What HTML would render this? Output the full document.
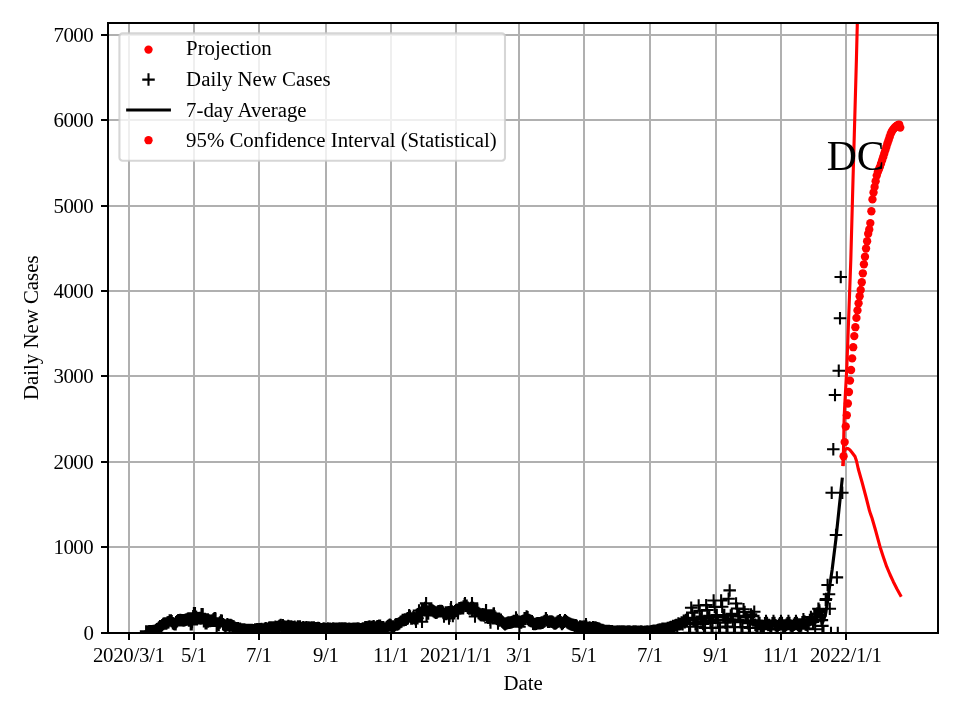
<!DOCTYPE html>
<html><head><meta charset="utf-8"><title>DC Daily New Cases</title>
<style>html,body{margin:0;padding:0;background:#fff;}body{width:960px;height:720px;position:relative;overflow:hidden;font-family:"Liberation Serif",serif;}</style></head>
<body>
<div style="position:absolute;left:0;top:0;width:960px;height:720px;will-change:transform">
<svg width="960" height="720" viewBox="0 0 960 720" style="position:absolute;left:0;top:0">
<rect x="0" y="0" width="960" height="720" fill="#fff"/>
<defs><clipPath id="ax"><rect x="108.0" y="23.0" width="830.0" height="610.0"/></clipPath></defs>
<path d="M129 23.0V633.0M194 23.0V633.0M259 23.0V633.0M326 23.0V633.0M391 23.0V633.0M456 23.0V633.0M519 23.0V633.0M584 23.0V633.0M650 23.0V633.0M716 23.0V633.0M781 23.0V633.0M846 23.0V633.0M108.0 633H938.0M108.0 547H938.0M108.0 462H938.0M108.0 376H938.0M108.0 291H938.0M108.0 206H938.0M108.0 120H938.0M108.0 35H938.0" stroke="#b0b0b0" stroke-width="2" fill="none"/>
<g clip-path="url(#ax)">
<g fill="#f00"><circle cx="843.60" cy="456.20" r="4.17"/><circle cx="844.67" cy="442.10" r="4.17"/><circle cx="845.74" cy="426.50" r="4.17"/><circle cx="846.81" cy="415.20" r="4.17"/><circle cx="847.88" cy="403.50" r="4.17"/><circle cx="848.94" cy="392.00" r="4.17"/><circle cx="850.01" cy="380.60" r="4.17"/><circle cx="851.08" cy="370.00" r="4.17"/><circle cx="852.15" cy="358.40" r="4.17"/><circle cx="853.22" cy="347.20" r="4.17"/><circle cx="854.29" cy="336.10" r="4.17"/><circle cx="855.36" cy="327.20" r="4.17"/><circle cx="856.43" cy="317.90" r="4.17"/><circle cx="857.49" cy="310.40" r="4.17"/><circle cx="858.56" cy="303.30" r="4.17"/><circle cx="859.63" cy="296.25" r="4.17"/><circle cx="860.70" cy="290.00" r="4.17"/><circle cx="861.77" cy="282.20" r="4.17"/><circle cx="862.84" cy="273.30" r="4.17"/><circle cx="863.91" cy="264.30" r="4.17"/><circle cx="864.98" cy="256.75" r="4.17"/><circle cx="866.04" cy="248.50" r="4.17"/><circle cx="867.11" cy="241.25" r="4.17"/><circle cx="868.18" cy="233.75" r="4.17"/><circle cx="869.25" cy="229.50" r="4.17"/><circle cx="870.32" cy="223.10" r="4.17"/><circle cx="871.39" cy="211.25" r="4.17"/><circle cx="872.46" cy="199.40" r="4.17"/><circle cx="873.53" cy="192.50" r="4.17"/><circle cx="874.60" cy="186.90" r="4.17"/><circle cx="875.66" cy="181.25" r="4.17"/><circle cx="876.73" cy="175.60" r="4.17"/><circle cx="877.80" cy="172.08" r="4.17"/><circle cx="878.87" cy="169.40" r="4.17"/><circle cx="879.94" cy="166.85" r="4.17"/><circle cx="881.01" cy="163.65" r="4.17"/><circle cx="882.08" cy="160.41" r="4.17"/><circle cx="883.15" cy="157.17" r="4.17"/><circle cx="884.21" cy="153.78" r="4.17"/><circle cx="885.28" cy="150.37" r="4.17"/><circle cx="886.35" cy="146.96" r="4.17"/><circle cx="887.42" cy="143.55" r="4.17"/><circle cx="888.49" cy="140.39" r="4.17"/><circle cx="889.56" cy="137.25" r="4.17"/><circle cx="890.63" cy="134.11" r="4.17"/><circle cx="891.70" cy="131.81" r="4.17"/><circle cx="892.76" cy="129.89" r="4.17"/><circle cx="893.83" cy="128.65" r="4.17"/><circle cx="894.90" cy="127.41" r="4.17"/><circle cx="895.97" cy="126.47" r="4.17"/><circle cx="897.04" cy="125.57" r="4.17"/><circle cx="898.11" cy="124.88" r="4.17"/><circle cx="899.18" cy="124.57" r="4.17"/><circle cx="900.25" cy="127.62" r="4.17"/></g>
<path d="M139.85 631.38h12.5M146.10 625.13v12.5M140.92 631.92h12.5M147.17 625.67v12.5M141.99 631.39h12.5M148.24 625.14v12.5M143.06 631.37h12.5M149.31 625.12v12.5M144.13 631.74h12.5M150.38 625.49v12.5M145.19 631.32h12.5M151.44 625.07v12.5M146.26 631.27h12.5M152.51 625.02v12.5M147.33 630.98h12.5M153.58 624.73v12.5M148.40 631.16h12.5M154.65 624.91v12.5M149.47 630.36h12.5M155.72 624.11v12.5M150.54 629.36h12.5M156.79 623.11v12.5M151.61 628.84h12.5M157.86 622.59v12.5M152.68 627.57h12.5M158.93 621.32v12.5M153.75 626.24h12.5M160.00 619.99v12.5M154.81 626.63h12.5M161.06 620.38v12.5M155.88 625.19h12.5M162.13 618.94v12.5M156.95 624.12h12.5M163.20 617.87v12.5M158.02 623.41h12.5M164.27 617.16v12.5M159.09 623.57h12.5M165.34 617.32v12.5M160.16 623.38h12.5M166.41 617.13v12.5M161.23 622.59h12.5M167.48 616.34v12.5M162.30 622.17h12.5M168.55 615.92v12.5M163.36 620.45h12.5M169.61 614.20v12.5M164.43 620.45h12.5M170.68 614.20v12.5M165.50 621.16h12.5M171.75 614.91v12.5M166.57 623.36h12.5M172.82 617.11v12.5M167.64 623.71h12.5M173.89 617.46v12.5M168.71 624.07h12.5M174.96 617.82v12.5M169.78 622.22h12.5M176.03 615.97v12.5M170.85 621.15h12.5M177.10 614.90v12.5M171.91 620.15h12.5M178.16 613.90v12.5M172.98 620.22h12.5M179.23 613.97v12.5M174.05 619.94h12.5M180.30 613.69v12.5M175.12 620.27h12.5M181.37 614.02v12.5M176.19 620.35h12.5M182.44 614.10v12.5M177.26 620.42h12.5M183.51 614.17v12.5M178.33 620.22h12.5M184.58 613.97v12.5M179.40 619.79h12.5M185.65 613.54v12.5M180.47 619.40h12.5M186.72 613.15v12.5M181.53 618.85h12.5M187.78 612.60v12.5M182.60 620.51h12.5M188.85 614.26v12.5M183.67 619.10h12.5M189.92 612.85v12.5M184.74 618.67h12.5M190.99 612.42v12.5M185.81 622.11h12.5M192.06 615.86v12.5M186.88 616.18h12.5M193.13 609.93v12.5M187.95 613.89h12.5M194.20 607.64v12.5M189.02 616.37h12.5M195.27 610.12v12.5M190.08 617.08h12.5M196.33 610.83v12.5M191.15 618.16h12.5M197.40 611.91v12.5M192.22 618.15h12.5M198.47 611.90v12.5M193.29 617.97h12.5M199.54 611.72v12.5M194.36 618.59h12.5M200.61 612.34v12.5M195.43 617.59h12.5M201.68 611.34v12.5M196.50 614.50h12.5M202.75 608.25v12.5M197.57 621.17h12.5M203.82 614.92v12.5M198.63 618.95h12.5M204.88 612.70v12.5M199.70 622.02h12.5M205.95 615.77v12.5M200.77 620.37h12.5M207.02 614.12v12.5M201.84 621.42h12.5M208.09 615.17v12.5M202.91 620.51h12.5M209.16 614.26v12.5M203.98 620.89h12.5M210.23 614.64v12.5M205.05 620.85h12.5M211.30 614.60v12.5M206.12 620.46h12.5M212.37 614.21v12.5M207.19 619.32h12.5M213.44 613.07v12.5M208.25 618.25h12.5M214.50 612.00v12.5M209.32 618.74h12.5M215.57 612.49v12.5M210.39 625.95h12.5M216.64 619.70v12.5M211.46 623.54h12.5M217.71 617.29v12.5M212.53 625.02h12.5M218.78 618.77v12.5M213.60 622.56h12.5M219.85 616.31v12.5M214.67 620.52h12.5M220.92 614.27v12.5M215.74 620.86h12.5M221.99 614.61v12.5M216.80 624.31h12.5M223.05 618.06v12.5M217.87 625.09h12.5M224.12 618.84v12.5M218.94 626.54h12.5M225.19 620.29v12.5M220.01 625.61h12.5M226.26 619.36v12.5M221.08 624.28h12.5M227.33 618.03v12.5M222.15 624.95h12.5M228.40 618.70v12.5M223.22 626.00h12.5M229.47 619.75v12.5M224.29 624.99h12.5M230.54 618.74v12.5M225.35 625.56h12.5M231.60 619.31v12.5M226.42 626.23h12.5M232.67 619.98v12.5M227.49 626.45h12.5M233.74 620.20v12.5M228.56 627.86h12.5M234.81 621.61v12.5M229.63 628.16h12.5M235.88 621.91v12.5M230.70 628.57h12.5M236.95 622.32v12.5M231.77 628.13h12.5M238.02 621.88v12.5M232.84 629.46h12.5M239.09 623.21v12.5M233.91 628.74h12.5M240.16 622.49v12.5M234.97 629.79h12.5M241.22 623.54v12.5M236.04 629.55h12.5M242.29 623.30v12.5M237.11 629.85h12.5M243.36 623.60v12.5M238.18 629.60h12.5M244.43 623.35v12.5M239.25 630.45h12.5M245.50 624.20v12.5M240.32 630.06h12.5M246.57 623.81v12.5M241.39 630.23h12.5M247.64 623.98v12.5M242.46 630.08h12.5M248.71 623.83v12.5M243.52 630.16h12.5M249.77 623.91v12.5M244.59 630.07h12.5M250.84 623.82v12.5M245.66 629.88h12.5M251.91 623.63v12.5M246.73 630.17h12.5M252.98 623.92v12.5M247.80 630.25h12.5M254.05 624.00v12.5M248.87 629.52h12.5M255.12 623.27v12.5M249.94 629.62h12.5M256.19 623.37v12.5M251.01 629.37h12.5M257.26 623.12v12.5M252.07 630.16h12.5M258.32 623.91v12.5M253.14 629.35h12.5M259.39 623.10v12.5M254.21 629.13h12.5M260.46 622.88v12.5M255.28 628.90h12.5M261.53 622.65v12.5M256.35 629.42h12.5M262.60 623.17v12.5M257.42 629.49h12.5M263.67 623.24v12.5M258.49 628.86h12.5M264.74 622.61v12.5M259.56 628.33h12.5M265.81 622.08v12.5M260.63 629.33h12.5M266.88 623.08v12.5M261.69 628.81h12.5M267.94 622.56v12.5M262.76 627.71h12.5M269.01 621.46v12.5M263.83 627.60h12.5M270.08 621.35v12.5M264.90 627.51h12.5M271.15 621.26v12.5M265.97 627.98h12.5M272.22 621.73v12.5M267.04 627.41h12.5M273.29 621.16v12.5M268.11 628.30h12.5M274.36 622.05v12.5M269.18 626.66h12.5M275.43 620.41v12.5M270.24 627.82h12.5M276.49 621.57v12.5M271.31 627.34h12.5M277.56 621.09v12.5M272.38 626.47h12.5M278.63 620.22v12.5M273.45 625.63h12.5M279.70 619.38v12.5M274.52 625.11h12.5M280.77 618.86v12.5M275.59 626.88h12.5M281.84 620.63v12.5M276.66 625.30h12.5M282.91 619.05v12.5M277.73 626.47h12.5M283.98 620.22v12.5M278.79 626.77h12.5M285.04 620.52v12.5M279.86 627.15h12.5M286.11 620.90v12.5M280.93 626.64h12.5M287.18 620.39v12.5M282.00 626.12h12.5M288.25 619.87v12.5M283.07 626.44h12.5M289.32 620.19v12.5M284.14 626.97h12.5M290.39 620.72v12.5M285.21 626.45h12.5M291.46 620.20v12.5M286.28 627.24h12.5M292.53 620.99v12.5M287.35 627.42h12.5M293.60 621.17v12.5M288.41 626.71h12.5M294.66 620.46v12.5M289.48 627.67h12.5M295.73 621.42v12.5M290.55 628.04h12.5M296.80 621.79v12.5M291.62 626.52h12.5M297.87 620.27v12.5M292.69 627.54h12.5M298.94 621.29v12.5M293.76 626.58h12.5M300.01 620.33v12.5M294.83 628.08h12.5M301.08 621.83v12.5M295.90 627.90h12.5M302.15 621.65v12.5M296.96 627.13h12.5M303.21 620.88v12.5M298.03 627.70h12.5M304.28 621.45v12.5M299.10 627.74h12.5M305.35 621.49v12.5M300.17 627.28h12.5M306.42 621.03v12.5M301.24 628.67h12.5M307.49 622.42v12.5M302.31 627.47h12.5M308.56 621.22v12.5M303.38 627.66h12.5M309.63 621.41v12.5M304.45 628.62h12.5M310.70 622.37v12.5M305.51 627.61h12.5M311.76 621.36v12.5M306.58 628.45h12.5M312.83 622.20v12.5M307.65 627.59h12.5M313.90 621.34v12.5M308.72 628.16h12.5M314.97 621.91v12.5M309.79 628.31h12.5M316.04 622.06v12.5M310.86 628.19h12.5M317.11 621.94v12.5M311.93 628.00h12.5M318.18 621.75v12.5M313.00 628.33h12.5M319.25 622.08v12.5M314.07 629.37h12.5M320.32 623.12v12.5M315.13 629.36h12.5M321.38 623.11v12.5M316.20 629.26h12.5M322.45 623.01v12.5M317.27 628.58h12.5M323.52 622.33v12.5M318.34 628.75h12.5M324.59 622.50v12.5M319.41 629.14h12.5M325.66 622.89v12.5M320.48 629.59h12.5M326.73 623.34v12.5M321.55 628.60h12.5M327.80 622.35v12.5M322.62 629.69h12.5M328.87 623.44v12.5M323.68 628.75h12.5M329.93 622.50v12.5M324.75 629.52h12.5M331.00 623.27v12.5M325.82 628.88h12.5M332.07 622.63v12.5M326.89 628.56h12.5M333.14 622.31v12.5M327.96 628.76h12.5M334.21 622.51v12.5M329.03 629.46h12.5M335.28 623.21v12.5M330.10 628.63h12.5M336.35 622.38v12.5M331.17 628.96h12.5M337.42 622.71v12.5M332.23 628.71h12.5M338.48 622.46v12.5M333.30 628.42h12.5M339.55 622.17v12.5M334.37 629.59h12.5M340.62 623.34v12.5M335.44 628.52h12.5M341.69 622.27v12.5M336.51 628.56h12.5M342.76 622.31v12.5M337.58 629.29h12.5M343.83 623.04v12.5M338.65 628.62h12.5M344.90 622.37v12.5M339.72 628.78h12.5M345.97 622.53v12.5M340.79 629.52h12.5M347.04 623.27v12.5M341.85 629.03h12.5M348.10 622.78v12.5M342.92 628.79h12.5M349.17 622.54v12.5M343.99 629.26h12.5M350.24 623.01v12.5M345.06 628.94h12.5M351.31 622.69v12.5M346.13 628.96h12.5M352.38 622.71v12.5M347.20 628.85h12.5M353.45 622.60v12.5M348.27 628.71h12.5M354.52 622.46v12.5M349.34 628.77h12.5M355.59 622.52v12.5M350.40 628.74h12.5M356.65 622.49v12.5M351.47 628.62h12.5M357.72 622.37v12.5M352.54 628.77h12.5M358.79 622.52v12.5M353.61 629.16h12.5M359.86 622.91v12.5M354.68 629.40h12.5M360.93 623.15v12.5M355.75 628.97h12.5M362.00 622.72v12.5M356.82 628.47h12.5M363.07 622.22v12.5M357.89 628.47h12.5M364.14 622.22v12.5M358.95 627.33h12.5M365.20 621.08v12.5M360.02 627.30h12.5M366.27 621.05v12.5M361.09 628.03h12.5M367.34 621.78v12.5M362.16 627.00h12.5M368.41 620.75v12.5M363.23 626.58h12.5M369.48 620.33v12.5M364.30 628.01h12.5M370.55 621.76v12.5M365.37 627.04h12.5M371.62 620.79v12.5M366.44 626.68h12.5M372.69 620.43v12.5M367.51 626.33h12.5M373.76 620.08v12.5M368.57 627.45h12.5M374.82 621.20v12.5M369.64 627.53h12.5M375.89 621.28v12.5M370.71 626.44h12.5M376.96 620.19v12.5M371.78 626.32h12.5M378.03 620.07v12.5M372.85 625.86h12.5M379.10 619.61v12.5M373.92 625.84h12.5M380.17 619.59v12.5M374.99 627.21h12.5M381.24 620.96v12.5M376.06 627.28h12.5M382.31 621.03v12.5M377.12 627.14h12.5M383.37 620.89v12.5M378.19 629.03h12.5M384.44 622.78v12.5M379.26 628.50h12.5M385.51 622.25v12.5M380.33 627.13h12.5M386.58 620.88v12.5M381.40 626.37h12.5M387.65 620.12v12.5M382.47 625.51h12.5M388.72 619.26v12.5M383.54 624.81h12.5M389.79 618.56v12.5M384.61 625.61h12.5M390.86 619.36v12.5M385.67 626.94h12.5M391.92 620.69v12.5M386.74 626.51h12.5M392.99 620.26v12.5M387.81 627.86h12.5M394.06 621.61v12.5M388.88 625.02h12.5M395.13 618.77v12.5M389.95 624.28h12.5M396.20 618.03v12.5M391.02 624.45h12.5M397.27 618.20v12.5M392.09 624.04h12.5M398.34 617.79v12.5M393.16 623.19h12.5M399.41 616.94v12.5M394.23 622.00h12.5M400.48 615.75v12.5M395.29 621.52h12.5M401.54 615.27v12.5M396.36 620.05h12.5M402.61 613.80v12.5M397.43 620.19h12.5M403.68 613.94v12.5M398.50 619.59h12.5M404.75 613.34v12.5M399.57 619.80h12.5M405.82 613.55v12.5M400.64 618.82h12.5M406.89 612.57v12.5M401.71 618.27h12.5M407.96 612.02v12.5M402.78 616.14h12.5M409.03 609.89v12.5M403.84 616.40h12.5M410.09 610.15v12.5M404.91 618.40h12.5M411.16 612.15v12.5M405.98 618.49h12.5M412.23 612.24v12.5M407.05 617.33h12.5M413.30 611.08v12.5M408.12 618.12h12.5M414.37 611.87v12.5M409.19 618.93h12.5M415.44 612.68v12.5M410.26 616.57h12.5M416.51 610.32v12.5M411.33 618.26h12.5M417.58 612.01v12.5M412.39 614.62h12.5M418.64 608.37v12.5M413.46 615.41h12.5M419.71 609.16v12.5M414.53 615.18h12.5M420.78 608.93v12.5M415.60 609.85h12.5M421.85 603.60v12.5M416.67 608.99h12.5M422.92 602.74v12.5M417.74 608.47h12.5M423.99 602.22v12.5M418.81 608.06h12.5M425.06 601.81v12.5M419.88 607.58h12.5M426.13 601.33v12.5M420.95 611.47h12.5M427.20 605.22v12.5M422.01 613.61h12.5M428.26 607.36v12.5M423.08 609.49h12.5M429.33 603.24v12.5M424.15 610.19h12.5M430.40 603.94v12.5M425.22 609.85h12.5M431.47 603.60v12.5M426.29 610.47h12.5M432.54 604.22v12.5M427.36 611.22h12.5M433.61 604.97v12.5M428.43 612.04h12.5M434.68 605.79v12.5M429.50 612.85h12.5M435.75 606.60v12.5M430.56 612.46h12.5M436.81 606.21v12.5M431.63 611.53h12.5M437.88 605.28v12.5M432.70 611.16h12.5M438.95 604.91v12.5M433.77 610.91h12.5M440.02 604.66v12.5M434.84 611.05h12.5M441.09 604.80v12.5M435.91 611.36h12.5M442.16 605.11v12.5M436.98 612.58h12.5M443.23 606.33v12.5M438.05 613.89h12.5M444.30 607.64v12.5M439.11 613.97h12.5M445.36 607.72v12.5M440.18 614.08h12.5M446.43 607.83v12.5M441.25 613.02h12.5M447.50 606.77v12.5M442.32 612.37h12.5M448.57 606.12v12.5M443.39 615.73h12.5M449.64 609.48v12.5M444.46 609.35h12.5M450.71 603.10v12.5M445.53 611.37h12.5M451.78 605.12v12.5M446.60 615.99h12.5M452.85 609.74v12.5M447.67 612.24h12.5M453.92 605.99v12.5M448.73 611.16h12.5M454.98 604.91v12.5M449.80 610.25h12.5M456.05 604.00v12.5M450.87 609.70h12.5M457.12 603.45v12.5M451.94 609.73h12.5M458.19 603.48v12.5M453.01 608.32h12.5M459.26 602.07v12.5M454.08 608.49h12.5M460.33 602.24v12.5M455.15 607.68h12.5M461.40 601.43v12.5M456.22 608.24h12.5M462.47 601.99v12.5M457.28 606.41h12.5M463.53 600.16v12.5M458.35 604.37h12.5M464.60 598.12v12.5M459.42 605.65h12.5M465.67 599.40v12.5M460.49 605.85h12.5M466.74 599.60v12.5M461.56 607.73h12.5M467.81 601.48v12.5M462.63 608.50h12.5M468.88 602.25v12.5M463.70 608.42h12.5M469.95 602.17v12.5M464.77 608.00h12.5M471.02 601.75v12.5M465.83 611.16h12.5M472.08 604.91v12.5M466.90 607.91h12.5M473.15 601.66v12.5M467.97 609.13h12.5M474.22 602.88v12.5M469.04 611.33h12.5M475.29 605.08v12.5M470.11 609.36h12.5M476.36 603.11v12.5M471.18 610.08h12.5M477.43 603.83v12.5M472.25 613.04h12.5M478.50 606.79v12.5M473.32 613.99h12.5M479.57 607.74v12.5M474.39 614.93h12.5M480.64 608.68v12.5M475.45 615.36h12.5M481.70 609.11v12.5M476.52 614.27h12.5M482.77 608.02v12.5M477.59 615.57h12.5M483.84 609.32v12.5M478.66 614.54h12.5M484.91 608.29v12.5M479.73 610.84h12.5M485.98 604.59v12.5M480.80 615.72h12.5M487.05 609.47v12.5M481.87 617.70h12.5M488.12 611.45v12.5M482.94 616.15h12.5M489.19 609.90v12.5M484.00 619.86h12.5M490.25 613.61v12.5M485.07 616.11h12.5M491.32 609.86v12.5M486.14 616.32h12.5M492.39 610.07v12.5M487.21 613.68h12.5M493.46 607.43v12.5M488.28 616.21h12.5M494.53 609.96v12.5M489.35 617.83h12.5M495.60 611.58v12.5M490.42 618.79h12.5M496.67 612.54v12.5M491.49 619.16h12.5M497.74 612.91v12.5M492.55 618.78h12.5M498.80 612.53v12.5M493.62 620.43h12.5M499.87 614.18v12.5M494.69 619.77h12.5M500.94 613.52v12.5M495.76 621.40h12.5M502.01 615.15v12.5M496.83 622.61h12.5M503.08 616.36v12.5M497.90 623.44h12.5M504.15 617.19v12.5M498.97 624.11h12.5M505.22 617.86v12.5M500.04 623.51h12.5M506.29 617.26v12.5M501.11 622.91h12.5M507.36 616.66v12.5M502.17 622.51h12.5M508.42 616.26v12.5M503.24 622.85h12.5M509.49 616.60v12.5M504.31 622.39h12.5M510.56 616.14v12.5M505.38 622.32h12.5M511.63 616.07v12.5M506.45 621.71h12.5M512.70 615.46v12.5M507.52 620.89h12.5M513.77 614.64v12.5M508.59 620.88h12.5M514.84 614.63v12.5M509.66 621.19h12.5M515.91 614.94v12.5M510.72 620.09h12.5M516.97 613.84v12.5M511.79 621.54h12.5M518.04 615.29v12.5M512.86 621.76h12.5M519.11 615.51v12.5M513.93 622.06h12.5M520.18 615.81v12.5M515.00 622.43h12.5M521.25 616.18v12.5M516.07 621.13h12.5M522.32 614.88v12.5M517.14 620.68h12.5M523.39 614.43v12.5M518.21 618.17h12.5M524.46 611.92v12.5M519.27 618.77h12.5M525.52 612.52v12.5M520.34 616.55h12.5M526.59 610.30v12.5M521.41 617.17h12.5M527.66 610.92v12.5M522.48 620.07h12.5M528.73 613.82v12.5M523.55 620.57h12.5M529.80 614.32v12.5M524.62 621.08h12.5M530.87 614.83v12.5M525.69 621.27h12.5M531.94 615.02v12.5M526.76 623.86h12.5M533.01 617.61v12.5M527.83 624.01h12.5M534.08 617.76v12.5M528.89 623.98h12.5M535.14 617.73v12.5M529.96 623.73h12.5M536.21 617.48v12.5M531.03 623.35h12.5M537.28 617.10v12.5M532.10 623.13h12.5M538.35 616.88v12.5M533.17 623.23h12.5M539.42 616.98v12.5M534.24 623.22h12.5M540.49 616.97v12.5M535.31 622.45h12.5M541.56 616.20v12.5M536.38 622.76h12.5M542.63 616.51v12.5M537.44 621.63h12.5M543.69 615.38v12.5M538.51 620.90h12.5M544.76 614.65v12.5M539.58 618.33h12.5M545.83 612.08v12.5M540.65 620.19h12.5M546.90 613.94v12.5M541.72 621.72h12.5M547.97 615.47v12.5M542.79 621.72h12.5M549.04 615.47v12.5M543.86 621.62h12.5M550.11 615.37v12.5M544.93 621.53h12.5M551.18 615.28v12.5M545.99 621.67h12.5M552.24 615.42v12.5M547.06 622.58h12.5M553.31 616.33v12.5M548.13 623.45h12.5M554.38 617.20v12.5M549.20 623.57h12.5M555.45 617.32v12.5M550.27 622.68h12.5M556.52 616.43v12.5M551.34 621.79h12.5M557.59 615.54v12.5M552.41 621.18h12.5M558.66 614.93v12.5M553.48 620.98h12.5M559.73 614.73v12.5M554.55 622.14h12.5M560.80 615.89v12.5M555.61 624.08h12.5M561.86 617.83v12.5M556.68 622.91h12.5M562.93 616.66v12.5M557.75 621.65h12.5M564.00 615.40v12.5M558.82 620.49h12.5M565.07 614.24v12.5M559.89 621.36h12.5M566.14 615.11v12.5M560.96 622.22h12.5M567.21 615.97v12.5M562.03 622.99h12.5M568.28 616.74v12.5M563.10 623.52h12.5M569.35 617.27v12.5M564.16 624.06h12.5M570.41 617.81v12.5M565.23 624.45h12.5M571.48 618.20v12.5M566.30 624.66h12.5M572.55 618.41v12.5M567.37 625.03h12.5M573.62 618.78v12.5M568.44 625.88h12.5M574.69 619.63v12.5M569.51 625.32h12.5M575.76 619.07v12.5M570.58 625.98h12.5M576.83 619.73v12.5M571.65 627.50h12.5M577.90 621.25v12.5M572.71 627.39h12.5M578.96 621.14v12.5M573.78 626.56h12.5M580.03 620.31v12.5M574.85 626.70h12.5M581.10 620.45v12.5M575.92 626.73h12.5M582.17 620.48v12.5M576.99 628.10h12.5M583.24 621.85v12.5M578.06 626.44h12.5M584.31 620.19v12.5M579.13 627.02h12.5M585.38 620.77v12.5M580.20 626.74h12.5M586.45 620.49v12.5M581.27 628.19h12.5M587.52 621.94v12.5M582.33 628.11h12.5M588.58 621.86v12.5M583.40 627.60h12.5M589.65 621.35v12.5M584.47 628.15h12.5M590.72 621.90v12.5M585.54 628.28h12.5M591.79 622.03v12.5M586.61 627.32h12.5M592.86 621.07v12.5M587.68 627.57h12.5M593.93 621.32v12.5M588.75 627.40h12.5M595.00 621.15v12.5M589.82 627.75h12.5M596.07 621.50v12.5M590.88 628.28h12.5M597.13 622.03v12.5M591.95 628.61h12.5M598.20 622.36v12.5M593.02 628.85h12.5M599.27 622.60v12.5M594.09 629.39h12.5M600.34 623.14v12.5M595.16 630.32h12.5M601.41 624.07v12.5M596.23 629.89h12.5M602.48 623.64v12.5M597.30 630.47h12.5M603.55 624.22v12.5M598.37 630.91h12.5M604.62 624.66v12.5M599.43 630.95h12.5M605.68 624.70v12.5M600.50 631.11h12.5M606.75 624.86v12.5M601.57 631.22h12.5M607.82 624.97v12.5M602.64 631.11h12.5M608.89 624.86v12.5M603.71 631.16h12.5M609.96 624.91v12.5M604.78 631.33h12.5M611.03 625.08v12.5M605.85 631.30h12.5M612.10 625.05v12.5M606.92 631.63h12.5M613.17 625.38v12.5M607.99 632.01h12.5M614.24 625.76v12.5M609.05 631.70h12.5M615.30 625.45v12.5M610.12 631.97h12.5M616.37 625.72v12.5M611.19 631.44h12.5M617.44 625.19v12.5M612.26 631.92h12.5M618.51 625.67v12.5M613.33 631.58h12.5M619.58 625.33v12.5M614.40 632.20h12.5M620.65 625.95v12.5M615.47 631.55h12.5M621.72 625.30v12.5M616.54 631.53h12.5M622.79 625.28v12.5M617.60 631.52h12.5M623.85 625.27v12.5M618.67 632.16h12.5M624.92 625.91v12.5M619.74 631.66h12.5M625.99 625.41v12.5M620.81 632.00h12.5M627.06 625.75v12.5M621.88 631.58h12.5M628.13 625.33v12.5M622.95 631.50h12.5M629.20 625.25v12.5M624.02 631.67h12.5M630.27 625.42v12.5M625.09 632.25h12.5M631.34 626.00v12.5M626.15 631.93h12.5M632.40 625.68v12.5M627.22 631.58h12.5M633.47 625.33v12.5M628.29 631.66h12.5M634.54 625.41v12.5M629.36 631.59h12.5M635.61 625.34v12.5M630.43 631.69h12.5M636.68 625.44v12.5M631.50 632.21h12.5M637.75 625.96v12.5M632.57 631.68h12.5M638.82 625.43v12.5M633.64 632.19h12.5M639.89 625.94v12.5M634.71 631.62h12.5M640.96 625.37v12.5M635.77 631.67h12.5M642.02 625.42v12.5M636.84 632.18h12.5M643.09 625.93v12.5M637.91 632.01h12.5M644.16 625.76v12.5M638.98 631.73h12.5M645.23 625.48v12.5M640.05 631.80h12.5M646.30 625.55v12.5M641.12 631.56h12.5M647.37 625.31v12.5M642.19 631.96h12.5M648.44 625.71v12.5M643.26 631.72h12.5M649.51 625.47v12.5M644.32 631.48h12.5M650.57 625.23v12.5M645.39 631.36h12.5M651.64 625.11v12.5M646.46 631.11h12.5M652.71 624.86v12.5M647.53 630.78h12.5M653.78 624.53v12.5M648.60 630.73h12.5M654.85 624.48v12.5M649.67 630.97h12.5M655.92 624.72v12.5M650.74 630.39h12.5M656.99 624.14v12.5M651.81 629.91h12.5M658.06 623.66v12.5M652.87 629.71h12.5M659.12 623.46v12.5M653.94 629.39h12.5M660.19 623.14v12.5M655.01 629.85h12.5M661.26 623.60v12.5M656.08 628.81h12.5M662.33 622.56v12.5M657.15 628.64h12.5M663.40 622.39v12.5M658.22 629.65h12.5M664.47 623.40v12.5M659.29 628.73h12.5M665.54 622.48v12.5M660.36 628.79h12.5M666.61 622.54v12.5M661.43 627.98h12.5M667.68 621.73v12.5M662.49 627.98h12.5M668.74 621.73v12.5M663.56 627.52h12.5M669.81 621.27v12.5M664.63 627.02h12.5M670.88 620.77v12.5M665.70 626.99h12.5M671.95 620.74v12.5M666.77 625.91h12.5M673.02 619.66v12.5M667.84 626.19h12.5M674.09 619.94v12.5M668.91 625.44h12.5M675.16 619.19v12.5M669.98 625.06h12.5M676.23 618.81v12.5M671.04 626.00h12.5M677.29 619.75v12.5M672.11 623.39h12.5M678.36 617.14v12.5M673.18 624.26h12.5M679.43 618.01v12.5M674.25 623.88h12.5M680.50 617.63v12.5M675.32 622.40h12.5M681.57 616.15v12.5M676.39 624.25h12.5M682.64 618.00v12.5M677.46 620.80h12.5M683.71 614.55v12.5M678.53 622.37h12.5M684.78 616.12v12.5M679.59 619.92h12.5M685.84 613.67v12.5M680.66 619.91h12.5M686.91 613.66v12.5M681.73 618.33h12.5M687.98 612.08v12.5M682.80 632.75h12.5M689.05 626.50v12.5M683.87 626.81h12.5M690.12 620.56v12.5M684.94 607.80h12.5M691.19 601.55v12.5M686.01 612.66h12.5M692.26 606.41v12.5M687.08 619.62h12.5M693.33 613.37v12.5M688.15 617.88h12.5M694.40 611.63v12.5M689.21 624.13h12.5M695.46 617.88v12.5M690.28 632.75h12.5M696.53 626.50v12.5M691.35 626.77h12.5M697.60 620.52v12.5M692.42 605.58h12.5M698.67 599.33v12.5M693.49 610.72h12.5M699.74 604.47v12.5M694.56 619.21h12.5M700.81 612.96v12.5M695.63 616.66h12.5M701.88 610.41v12.5M696.70 623.92h12.5M702.95 617.67v12.5M697.76 632.75h12.5M704.01 626.50v12.5M698.83 627.84h12.5M705.08 621.59v12.5M699.90 605.16h12.5M706.15 598.91v12.5M700.97 610.00h12.5M707.22 603.75v12.5M702.04 618.05h12.5M708.29 611.80v12.5M703.11 615.78h12.5M709.36 609.53v12.5M704.18 622.95h12.5M710.43 616.70v12.5M705.25 632.75h12.5M711.50 626.50v12.5M706.31 627.96h12.5M712.56 621.71v12.5M707.38 600.54h12.5M713.63 594.29v12.5M708.45 607.06h12.5M714.70 600.81v12.5M709.52 616.86h12.5M715.77 610.61v12.5M710.59 614.97h12.5M716.84 608.72v12.5M711.66 622.75h12.5M717.91 616.50v12.5M712.73 632.75h12.5M718.98 626.50v12.5M713.80 627.53h12.5M720.05 621.28v12.5M714.87 600.54h12.5M721.12 594.29v12.5M715.93 606.79h12.5M722.18 600.54v12.5M717.00 616.90h12.5M723.25 610.65v12.5M718.07 615.01h12.5M724.32 608.76v12.5M719.14 622.63h12.5M725.39 616.38v12.5M720.21 632.75h12.5M726.46 626.50v12.5M721.28 626.49h12.5M727.53 620.24v12.5M722.35 598.83h12.5M728.60 592.58v12.5M723.42 590.38h12.5M729.67 584.13v12.5M724.48 615.38h12.5M730.73 609.13v12.5M725.55 613.83h12.5M731.80 607.58v12.5M726.62 621.59h12.5M732.87 615.34v12.5M727.69 632.75h12.5M733.94 626.50v12.5M728.76 627.33h12.5M735.01 621.08v12.5M729.83 603.53h12.5M736.08 597.28v12.5M730.90 608.55h12.5M737.15 602.30v12.5M731.97 616.55h12.5M738.22 610.30v12.5M733.03 615.72h12.5M739.28 609.47v12.5M734.10 622.30h12.5M740.35 616.05v12.5M735.17 632.75h12.5M741.42 626.50v12.5M736.24 627.08h12.5M742.49 620.83v12.5M737.31 609.17h12.5M743.56 602.92v12.5M738.38 612.07h12.5M744.63 605.82v12.5M739.45 617.36h12.5M745.70 611.11v12.5M740.52 617.25h12.5M746.77 611.00v12.5M741.59 623.19h12.5M747.84 616.94v12.5M742.65 632.75h12.5M748.90 626.50v12.5M743.72 627.84h12.5M749.97 621.59v12.5M744.79 614.38h12.5M751.04 608.13v12.5M745.86 616.10h12.5M752.11 609.85v12.5M746.93 620.34h12.5M753.18 614.09v12.5M748.00 611.73h12.5M754.25 605.48v12.5M749.07 624.63h12.5M755.32 618.38v12.5M750.14 632.75h12.5M756.39 626.50v12.5M751.20 628.05h12.5M757.45 621.80v12.5M752.27 620.96h12.5M758.52 614.71v12.5M753.34 622.92h12.5M759.59 616.67v12.5M754.41 625.85h12.5M760.66 619.60v12.5M755.48 625.76h12.5M761.73 619.51v12.5M756.55 629.17h12.5M762.80 622.92v12.5M757.62 626.12h12.5M763.87 619.87v12.5M758.69 623.14h12.5M764.94 616.89v12.5M759.75 620.96h12.5M766.00 614.71v12.5M760.82 622.92h12.5M767.07 616.67v12.5M761.89 624.88h12.5M768.14 618.63v12.5M762.96 625.00h12.5M769.21 618.75v12.5M764.03 629.10h12.5M770.28 622.85v12.5M765.10 625.68h12.5M771.35 619.43v12.5M766.17 623.14h12.5M772.42 616.89v12.5M767.24 620.96h12.5M773.49 614.71v12.5M768.31 622.92h12.5M774.56 616.67v12.5M769.37 625.34h12.5M775.62 619.09v12.5M770.44 626.14h12.5M776.69 619.89v12.5M771.51 629.47h12.5M777.76 623.22v12.5M772.58 624.87h12.5M778.83 618.62v12.5M773.65 623.14h12.5M779.90 616.89v12.5M774.72 620.96h12.5M780.97 614.71v12.5M775.79 622.92h12.5M782.04 616.67v12.5M776.86 625.75h12.5M783.11 619.50v12.5M777.92 625.47h12.5M784.17 619.22v12.5M778.99 628.55h12.5M785.24 622.30v12.5M780.06 624.76h12.5M786.31 618.51v12.5M781.13 623.14h12.5M787.38 616.89v12.5M782.20 620.96h12.5M788.45 614.71v12.5M783.27 622.92h12.5M789.52 616.67v12.5M784.34 625.51h12.5M790.59 619.26v12.5M785.41 625.90h12.5M791.66 619.65v12.5M786.47 629.20h12.5M792.72 622.95v12.5M787.54 624.84h12.5M793.79 618.59v12.5M788.61 623.14h12.5M794.86 616.89v12.5M789.68 620.96h12.5M795.93 614.71v12.5M790.75 622.92h12.5M797.00 616.67v12.5M791.82 624.88h12.5M798.07 618.63v12.5M792.89 625.92h12.5M799.14 619.67v12.5M793.96 628.64h12.5M800.21 622.39v12.5M795.03 625.46h12.5M801.28 619.21v12.5M796.09 622.37h12.5M802.34 616.12v12.5M797.16 619.36h12.5M803.41 613.11v12.5M798.23 621.43h12.5M804.48 615.18v12.5M799.30 624.51h12.5M805.55 618.26v12.5M800.37 624.74h12.5M806.62 618.49v12.5M801.44 628.60h12.5M807.69 622.35v12.5M802.51 622.47h12.5M808.76 616.22v12.5M803.58 620.07h12.5M809.83 613.82v12.5M804.64 616.98h12.5M810.89 610.73v12.5M805.71 618.68h12.5M811.96 612.43v12.5M806.78 622.04h12.5M813.03 615.79v12.5M807.85 620.05h12.5M814.10 613.80v12.5M808.92 629.31h12.5M815.17 623.06v12.5M809.99 617.33h12.5M816.24 611.08v12.5M811.06 613.59h12.5M817.31 607.34v12.5M812.13 608.82h12.5M818.38 602.57v12.5M813.19 610.62h12.5M819.44 604.37v12.5M814.26 614.96h12.5M820.51 608.71v12.5M163.65 620.45h12.5M169.90 614.20v12.5M164.75 620.45h12.5M171.00 614.20v12.5M187.65 613.35h12.5M193.90 607.10v12.5M188.75 613.35h12.5M195.00 607.10v12.5M195.25 614.25h12.5M201.50 608.00v12.5M196.35 614.25h12.5M202.60 608.00v12.5M208.75 618.25h12.5M215.00 612.00v12.5M214.75 620.45h12.5M221.00 614.20v12.5M168.35 624.35h12.5M174.60 618.10v12.5M169.45 624.35h12.5M175.70 618.10v12.5M184.45 624.35h12.5M190.70 618.10v12.5M185.55 624.35h12.5M191.80 618.10v12.5M199.25 623.35h12.5M205.50 617.10v12.5M200.35 623.35h12.5M206.60 617.10v12.5M402.95 615.35h12.5M409.20 609.10v12.5M412.75 610.45h12.5M419.00 604.20v12.5M419.85 603.35h12.5M426.10 597.10v12.5M444.85 607.35h12.5M451.10 601.10v12.5M458.75 603.35h12.5M465.00 597.10v12.5M465.75 603.35h12.5M472.00 597.10v12.5M479.85 610.25h12.5M486.10 604.00v12.5M487.75 613.45h12.5M494.00 607.20v12.5M509.75 617.45h12.5M516.00 611.20v12.5M539.75 618.25h12.5M546.00 612.00v12.5M553.75 620.35h12.5M560.00 614.10v12.5M558.75 620.35h12.5M565.00 614.10v12.5M579.75 624.35h12.5M586.00 618.10v12.5M409.75 621.75h12.5M416.00 615.50v12.5M415.75 621.75h12.5M422.00 615.50v12.5M437.75 616.55h12.5M444.00 610.30v12.5M442.75 618.45h12.5M449.00 612.20v12.5M451.75 613.35h12.5M458.00 607.10v12.5M468.75 616.55h12.5M475.00 610.30v12.5M484.25 622.45h12.5M490.50 616.20v12.5M491.75 623.55h12.5M498.00 617.30v12.5M498.75 624.25h12.5M505.00 618.00v12.5M513.25 626.75h12.5M519.50 620.50v12.5M420.25 614.80h12.5M426.50 608.55v12.5M814.25 615.70h12.5M820.50 609.45v12.5M815.65 620.10h12.5M821.90 613.85v12.5M816.15 625.90h12.5M822.40 619.65v12.5M813.35 612.50h12.5M819.60 606.25v12.5M812.35 608.75h12.5M818.60 602.50v12.5M817.25 633.00h12.5M823.50 626.75v12.5M819.45 600.00h12.5M825.70 593.75v12.5M819.75 599.00h12.5M826.00 592.75v12.5M821.35 585.00h12.5M827.60 578.75v12.5M822.75 594.20h12.5M829.00 587.95v12.5M823.55 608.75h12.5M829.80 602.50v12.5M824.75 633.00h12.5M831.00 626.75v12.5M825.45 492.70h12.5M831.70 486.45v12.5M827.05 449.30h12.5M833.30 443.05v12.5M828.75 395.00h12.5M835.00 388.75v12.5M829.75 535.00h12.5M836.00 528.75v12.5M830.65 577.40h12.5M836.90 571.15v12.5M831.55 633.00h12.5M837.80 626.75v12.5M832.50 370.75h12.5M838.75 364.50v12.5M833.75 318.25h12.5M840.00 312.00v12.5M834.50 277.00h12.5M840.75 270.75v12.5M836.05 492.70h12.5M842.30 486.45v12.5" stroke="#000" stroke-width="2.08" fill="none"/>
<path d="M146.10 631.57L147.17 631.57L148.24 631.57L149.31 631.57L150.38 631.57L151.44 631.57L152.51 631.40L153.58 631.04L154.65 630.69L155.72 630.23L156.79 629.76L157.86 629.29L158.93 628.09L160.00 626.77L161.06 627.37L162.13 625.67L163.20 624.14L164.27 623.52L165.34 623.31L166.41 623.10L167.48 622.59L168.55 622.17L169.61 620.45L170.68 620.45L171.75 621.16L172.82 623.36L173.89 623.71L174.96 623.66L176.03 622.22L177.10 621.15L178.16 620.22L179.23 619.79L180.30 619.95L181.37 620.27L182.44 620.35L183.51 620.42L184.58 620.22L185.65 619.79L186.72 619.48L187.78 619.28L188.85 619.10L189.92 619.68L190.99 620.38L192.06 619.74L193.13 616.84L194.20 616.15L195.27 616.15L196.33 618.15L197.40 618.53L198.47 618.44L199.54 618.29L200.61 617.02L201.68 616.32L202.75 616.42L203.82 619.06L204.88 620.23L205.95 620.92L207.02 620.68L208.09 620.65L209.16 620.83L210.23 620.91L211.30 620.85L212.37 620.46L213.44 619.32L214.50 618.25L215.57 619.41L216.64 623.61L217.71 623.50L218.78 623.94L219.85 623.56L220.92 621.93L221.99 621.93L223.05 624.45L224.12 625.42L225.19 625.27L226.26 625.27L227.33 625.27L228.40 625.27L229.47 625.27L230.54 625.51L231.60 625.98L232.67 626.45L233.74 626.92L234.81 627.39L235.88 627.86L236.95 628.15L238.02 628.42L239.09 628.69L240.16 628.95L241.22 629.22L242.29 629.49L243.36 629.70L244.43 629.80L245.50 629.91L246.57 630.01L247.64 630.11L248.71 630.21L249.77 630.31L250.84 630.26L251.91 630.17L252.98 630.08L254.05 630.00L255.12 629.91L256.19 629.82L257.26 629.73L258.32 629.63L259.39 629.49L260.46 629.36L261.53 629.23L262.60 629.09L263.67 628.96L264.74 628.82L265.81 628.68L266.88 628.54L267.94 628.39L269.01 628.25L270.08 628.10L271.15 627.96L272.22 627.81L273.29 627.67L274.36 627.52L275.43 627.38L276.49 627.23L277.56 627.09L278.63 626.80L279.70 626.41L280.77 626.01L281.84 626.03L282.91 626.16L283.98 626.29L285.04 626.42L286.11 626.55L287.18 626.69L288.25 626.82L289.32 626.95L290.39 627.03L291.46 627.03L292.53 627.03L293.60 627.03L294.66 627.03L295.73 627.03L296.80 627.03L297.87 627.03L298.94 627.03L300.01 627.03L301.08 627.03L302.15 627.05L303.21 627.16L304.28 627.28L305.35 627.40L306.42 627.52L307.49 627.63L308.56 627.75L309.63 627.87L310.70 627.96L311.76 628.04L312.83 628.12L313.90 628.20L314.97 628.27L316.04 628.35L317.11 628.43L318.18 628.51L319.25 628.59L320.32 628.67L321.38 628.74L322.45 628.82L323.52 628.90L324.59 628.98L325.66 629.00L326.73 628.98L327.80 628.97L328.87 628.95L329.93 628.94L331.00 628.92L332.07 628.91L333.14 628.89L334.21 628.87L335.28 628.86L336.35 628.84L337.42 628.83L338.48 628.81L339.55 628.80L340.62 628.82L341.69 628.86L342.76 628.91L343.83 628.96L344.90 629.01L345.97 629.05L347.04 629.10L348.10 629.15L349.17 629.19L350.24 629.22L351.31 629.20L352.38 629.18L353.45 629.15L354.52 629.13L355.59 629.11L356.65 629.08L357.72 629.06L358.79 629.04L359.86 629.01L360.93 628.74L362.00 628.43L363.07 628.12L364.14 627.81L365.20 627.54L366.27 627.48L367.34 627.41L368.41 627.34L369.48 627.27L370.55 627.20L371.62 627.13L372.69 627.06L373.76 626.99L374.82 626.92L375.89 626.86L376.96 626.79L378.03 626.72L379.10 626.65L380.17 626.65L381.24 627.00L382.31 627.36L383.37 627.72L384.44 628.08L385.51 627.96L386.58 627.34L387.65 626.72L388.72 626.10L389.79 625.48L390.86 625.84L391.92 626.43L392.99 627.03L394.06 627.56L395.13 625.85L396.20 624.42L397.27 624.12L398.34 623.83L399.41 623.14L400.48 621.94L401.54 621.03L402.61 620.25L403.68 619.87L404.75 619.50L405.82 619.10L406.89 618.68L407.96 618.27L409.03 616.31L410.09 616.88L411.16 618.55L412.23 618.10L413.30 617.79L414.37 617.96L415.44 618.23L416.51 618.00L417.58 616.59L418.64 613.21L419.71 613.14L420.78 612.96L421.85 613.56L422.92 613.28L423.99 611.27L425.06 608.71L426.13 606.71L427.20 608.43L428.26 610.59L429.33 609.75L430.40 609.65L431.47 609.98L432.54 610.47L433.61 611.22L434.68 612.04L435.75 612.85L436.81 612.46L437.88 611.73L438.95 611.00L440.02 611.04L441.09 611.68L442.16 612.33L443.23 613.16L444.30 614.29L445.36 614.09L446.43 613.32L447.50 613.40L448.57 613.85L449.64 613.45L450.71 610.19L451.78 610.80L452.85 612.86L453.92 612.46L454.98 611.11L456.05 610.98L457.12 610.86L458.19 610.56L459.26 609.39L460.33 608.31L461.40 607.42L462.47 606.90L463.53 606.42L464.60 604.87L465.67 605.12L466.74 606.77L467.81 607.35L468.88 608.04L469.95 608.50L471.02 608.52L472.08 606.59L473.15 609.69L474.22 610.77L475.29 611.75L476.36 611.31L477.43 610.88L478.50 613.04L479.57 613.99L480.64 614.93L481.70 615.16L482.77 615.09L483.84 615.02L484.91 614.62L485.98 613.30L487.05 615.51L488.12 616.50L489.19 617.33L490.25 618.08L491.32 617.69L492.39 616.89L493.46 615.63L494.53 615.68L495.60 617.78L496.67 618.98L497.74 620.11L498.80 620.05L499.87 619.85L500.94 620.51L502.01 621.60L503.08 622.68L504.15 623.39L505.22 623.95L506.29 623.51L507.36 622.91L508.42 622.53L509.49 622.58L510.56 622.64L511.63 622.69L512.70 622.16L513.77 621.33L514.84 620.65L515.91 619.17L516.97 620.46L518.04 620.92L519.11 622.83L520.18 622.93L521.25 621.72L522.32 621.22L523.39 620.86L524.46 619.18L525.52 617.51L526.59 617.66L527.66 618.09L528.73 620.07L529.80 620.98L530.87 621.52L531.94 622.02L533.01 623.11L534.08 624.14L535.14 623.81L536.21 623.32L537.28 622.89L538.35 622.72L539.42 622.71L540.49 622.69L541.56 622.68L542.63 622.66L543.69 621.91L544.76 620.90L545.83 618.86L546.90 620.32L547.97 621.72L549.04 621.75L550.11 621.62L551.18 621.53L552.24 621.69L553.31 622.57L554.38 623.45L555.45 623.57L556.52 622.68L557.59 621.79L558.66 621.38L559.73 621.33L560.80 622.53L561.86 624.06L562.93 622.94L564.00 621.45L565.07 620.52L566.14 621.36L567.21 622.22L568.28 622.99L569.35 623.52L570.41 624.06L571.48 624.45L572.55 624.68L573.62 625.17L574.69 625.65L575.76 626.14L576.83 628.33L577.90 626.54L578.96 626.79L580.03 627.03L581.10 627.03L582.17 627.03L583.24 627.03L584.31 627.05L585.38 627.14L586.45 627.23L587.52 627.31L588.58 627.40L589.65 627.48L590.72 627.57L591.79 627.65L592.86 627.74L593.93 627.82L595.00 627.91L596.07 628.23L597.13 628.55L598.20 628.87L599.27 629.19L600.34 629.51L601.41 629.83L602.48 630.15L603.55 630.48L604.62 630.84L605.68 631.03L606.75 631.12L607.82 631.21L608.89 631.30L609.96 631.40L611.03 631.49L612.10 631.57L613.17 631.61L614.24 631.64L615.30 631.67L616.37 631.71L617.44 631.74L618.51 631.77L619.58 631.81L620.65 631.82L621.72 631.82L622.79 631.82L623.85 631.82L624.92 631.82L625.99 631.82L627.06 631.82L628.13 631.82L629.20 631.82L630.27 631.82L631.34 631.82L632.40 631.82L633.47 631.82L634.54 631.82L635.61 631.82L636.68 631.82L637.75 631.82L638.82 631.82L639.89 631.82L640.96 631.82L642.02 631.82L643.09 631.82L644.16 631.82L645.23 631.82L646.30 631.82L647.37 631.82L648.44 631.82L649.51 631.82L650.57 631.69L651.64 631.45L652.71 631.21L653.78 630.97L654.85 630.73L655.92 630.49L656.99 630.27L658.06 630.05L659.12 629.84L660.19 629.64L661.26 629.45L662.33 629.26L663.40 629.07L664.47 628.88L665.54 628.70L666.61 628.51L667.68 628.32L668.74 628.13L669.81 627.94L670.88 627.52L671.95 627.05L673.02 626.58L674.09 626.11L675.16 625.64L676.23 625.17L677.29 624.68L678.36 624.20L679.43 623.72L680.50 623.23L681.57 622.75L682.64 622.27L683.71 621.80L684.78 621.35L685.84 620.90L686.91 620.45L687.98 620.00L689.05 623.41L690.12 623.16L691.19 623.00L692.26 622.84L693.33 622.68L694.40 622.52L695.46 622.36L696.53 622.21L697.60 622.05L698.67 621.89L699.74 621.73L700.81 621.61L701.88 621.50L702.95 621.39L704.01 621.29L705.08 621.18L706.15 621.07L707.22 620.97L708.29 620.86L709.36 620.75L710.43 620.65L711.50 620.54L712.56 620.46L713.63 620.40L714.70 620.34L715.77 620.28L716.84 620.22L717.91 620.16L718.98 620.10L720.05 620.04L721.12 619.98L722.18 619.92L723.25 619.86L724.32 619.79L725.39 619.73L726.46 619.67L727.53 619.61L728.60 619.55L729.67 619.49L730.73 619.54L731.80 619.63L732.87 619.73L733.94 619.82L735.01 619.91L736.08 620.01L737.15 620.10L738.22 620.19L739.28 620.29L740.35 620.38L741.42 620.48L742.49 620.57L743.56 620.66L744.63 620.76L745.70 620.96L746.77 621.23L747.84 621.50L748.90 621.76L749.97 622.03L751.04 622.30L752.11 622.56L753.18 622.83L754.25 623.09L755.32 623.36L756.39 623.63L757.45 623.96L758.52 625.32L759.59 625.32L760.66 625.32L761.73 625.32L762.80 625.32L763.87 625.32L764.94 625.32L766.00 625.32L767.07 625.32L768.14 625.32L769.21 625.32L770.28 625.32L771.35 625.32L772.42 625.32L773.49 625.32L774.56 625.32L775.62 625.32L776.69 625.32L777.76 625.32L778.83 625.32L779.90 625.32L780.97 625.32L782.04 625.32L783.11 625.32L784.17 625.32L785.24 625.32L786.31 625.32L787.38 625.32L788.45 625.32L789.52 625.32L790.59 625.32L791.66 625.32L792.72 625.32L793.79 625.32L794.86 625.32L795.93 625.32L797.00 625.32L798.07 625.32L799.14 625.32L800.21 625.28L801.28 625.08L802.34 624.88L803.41 624.69L804.48 624.49L805.55 624.29L806.62 623.99L807.69 623.61L808.76 623.23L809.83 622.85L810.89 622.46L811.96 622.08L813.03 621.12L814.10 620.13L815.17 619.14L816.24 618.15L817.31 617.16L818.38 615.96L819.44 614.36L820.51 612.76L822.00 624.00L824.00 619.00L825.80 612.80L827.50 602.00L829.20 589.50L832.10 570.00L835.80 540.00L839.00 509.50L842.20 479.20" stroke="#000" stroke-width="3.125" fill="none" stroke-linejoin="round" stroke-linecap="square"/>
<path d="M843.10 464.50L843.50 450.00L844.10 420.00L844.60 408.00L846.70 370.00L848.60 320.00L850.80 260.00L853.00 180.00L854.30 135.00L856.40 60.00L857.30 24.00L857.50 15.00" stroke="#f00" stroke-width="3.125" fill="none" stroke-linejoin="round" stroke-linecap="square"/>
<path d="M843.00 464.50L843.80 453.00L845.00 449.80L846.50 448.60L848.30 448.60L850.00 450.00L852.00 452.50L855.00 456.50L856.50 461.00L858.30 469.00L862.00 482.00L866.00 497.00L869.50 510.80L870.70 514.40L872.00 518.00L875.40 529.70L880.00 546.70L883.00 556.00L886.70 566.70L890.00 574.50L893.30 581.70L897.00 589.00L900.50 595.30" stroke="#f00" stroke-width="3.125" fill="none" stroke-linejoin="round" stroke-linecap="square"/>
</g>
<text transform="translate(826.7,169.9)" font-family="Liberation Serif, serif" font-size="41.67" fill="#000">DC</text>
<rect x="108.0" y="23.0" width="830.0" height="610.0" fill="none" stroke="#000" stroke-width="2"/>
<path d="M129 633.0v6.9M194 633.0v6.9M259 633.0v6.9M326 633.0v6.9M391 633.0v6.9M456 633.0v6.9M519 633.0v6.9M584 633.0v6.9M650 633.0v6.9M716 633.0v6.9M781 633.0v6.9M846 633.0v6.9M108.0 633h-7M108.0 547h-7M108.0 462h-7M108.0 376h-7M108.0 291h-7M108.0 206h-7M108.0 120h-7M108.0 35h-7" stroke="#000" stroke-width="2" fill="none"/>
<g font-family="Liberation Serif, serif" font-size="20.83" fill="#000">
<text x="93.00" y="662.2" textLength="72" lengthAdjust="spacing">2020/3/1</text>
<text x="181.00" y="662.2" textLength="26" lengthAdjust="spacing">5/1</text>
<text x="246.00" y="662.2" textLength="26" lengthAdjust="spacing">7/1</text>
<text x="313.00" y="662.2" textLength="26" lengthAdjust="spacing">9/1</text>
<text x="373.00" y="662.2" textLength="36" lengthAdjust="spacing">11/1</text>
<text x="420.00" y="662.2" textLength="72" lengthAdjust="spacing">2021/1/1</text>
<text x="506.00" y="662.2" textLength="26" lengthAdjust="spacing">3/1</text>
<text x="571.00" y="662.2" textLength="26" lengthAdjust="spacing">5/1</text>
<text x="637.00" y="662.2" textLength="26" lengthAdjust="spacing">7/1</text>
<text x="703.00" y="662.2" textLength="26" lengthAdjust="spacing">9/1</text>
<text x="763.00" y="662.2" textLength="36" lengthAdjust="spacing">11/1</text>
<text x="810.00" y="662.2" textLength="72" lengthAdjust="spacing">2022/1/1</text>
<text x="83.60" y="640.10" textLength="10" lengthAdjust="spacing">0</text>
<text x="53.60" y="554.10" textLength="40" lengthAdjust="spacing">1000</text>
<text x="53.60" y="469.10" textLength="40" lengthAdjust="spacing">2000</text>
<text x="53.60" y="383.10" textLength="40" lengthAdjust="spacing">3000</text>
<text x="53.60" y="298.10" textLength="40" lengthAdjust="spacing">4000</text>
<text x="53.60" y="213.10" textLength="40" lengthAdjust="spacing">5000</text>
<text x="53.60" y="127.10" textLength="40" lengthAdjust="spacing">6000</text>
<text x="53.60" y="42.10" textLength="40" lengthAdjust="spacing">7000</text>
<text x="523.1" y="689.8" text-anchor="middle">Date</text>
<text transform="translate(37.7,327.8) rotate(-90)" text-anchor="middle">Daily New Cases</text>
</g>
<rect x="119.4" y="33.4" width="385.6" height="127.4" rx="3.2" ry="3.2" fill="#fff" fill-opacity="0.8" stroke="#ccc" stroke-opacity="0.8" stroke-width="2.08"/>
<circle cx="148.5" cy="49.6" r="4.17" fill="#f00"/>
<path d="M142.25 79.6h12.5M148.5 73.35v12.5" stroke="#000" stroke-width="2.08" fill="none"/>
<path d="M127.7 110h41.67" stroke="#000" stroke-width="3.125" stroke-linecap="square" fill="none"/>
<circle cx="148.5" cy="140.2" r="4.17" fill="#f00"/>
<g font-family="Liberation Serif, serif" font-size="20.83" fill="#000">
<text x="186.1" y="55.45">Projection</text>
<text x="186.1" y="86.00">Daily New Cases</text>
<text x="186.1" y="116.55">7-day Average</text>
<text x="186.1" y="147.10">95% Confidence Interval (Statistical)</text>
</g>
</svg>
</div>
</body></html>
